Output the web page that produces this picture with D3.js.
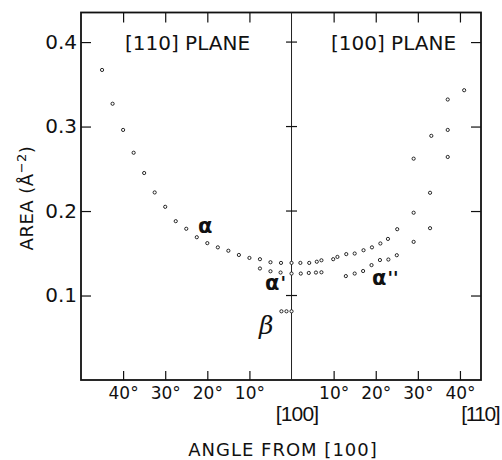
<!DOCTYPE html>
<html>
<head>
<meta charset="UTF-8">
<title>Area vs angle</title>
<script src="https://d3js.org/d3.v7.min.js"></script>
<style>
  body { margin: 0; background: #fff; }
  text { font-family: "DejaVu Sans", sans-serif; fill: #111; }
</style>
</head>
<body>
<svg id="chart" width="502" height="460"></svg>
<script>
// angle from [100] in degrees: negative = [110] plane (left), positive = [100] plane (right)
const alphaAngle = [-45, -42.5, -40, -37.5, -35, -32.5, -30, -27.5, -25, -22.5, -20, -17.5, -15, -12.5, -10, -7.5, -5, -2.5, 0, 2.1, 4.2, 6, 7.1, 9.9, 10.9, 13, 15, 17.1, 19.1, 21.1, 22.9, 25.1];
const alphaArea  = [0.367, 0.327, 0.296, 0.269, 0.245, 0.222, 0.205, 0.188, 0.179, 0.169, 0.162, 0.157, 0.153, 0.148, 0.1445, 0.143, 0.1394, 0.1386, 0.1386, 0.1386, 0.1386, 0.140, 0.1417, 0.143, 0.1457, 0.149, 0.1497, 0.1536, 0.157, 0.1616, 0.167, 0.1785];

const highAngle = [29, 33.2, 37.1, 41];
const highArea  = [0.262, 0.289, 0.332, 0.343];

const midAngle = [29, 32.9, 37.1];
const midArea  = [0.198, 0.2216, 0.296];

const alphaPrimeAngle = [-7.5, -5, -2.6, 0, 2.2, 4.1, 5.8, 7.1];
const alphaPrimeArea  = [0.132, 0.1287, 0.1272, 0.126, 0.126, 0.1267, 0.1272, 0.1275];

const alphaDblAngle = [12.9, 15, 17, 19, 21, 23, 25, 29, 32.9, 37.1];
const alphaDblArea  = [0.123, 0.126, 0.129, 0.136, 0.142, 0.1426, 0.1477, 0.1635, 0.1797, 0.264];

const betaAngle = [-2.4, -1.2, 0];
const betaArea  = [0.0813, 0.0813, 0.0813];

const xTicks = [-40, -30, -20, -10, 10, 20, 30, 40];
const yTicks = [0.1, 0.2, 0.3, 0.4];

const svg = d3.select('#chart');
const pLeft = 81, pRight = 481, pTop = 12.5, pBottom = 380;

const x = d3.scaleLinear().domain([-50, 45]).range([pLeft, pRight]);
const y = d3.scaleLinear().domain([0, 0.435]).range([pBottom, pTop]);

function styleAxis(g) {
    g.select('.domain').remove();
    g.selectAll('.tick line').attr('stroke', '#111').attr('stroke-width', 1.2);
    g.selectAll('.tick text').attr('fill', '#111');
}

// left axis with labels
svg.append('g')
    .attr('transform', `translate(${pLeft},0)`)
    .call(d3.axisLeft(y).tickValues(yTicks).tickSize(-10).tickSizeOuter(0).tickPadding(4)
        .tickFormat(d3.format('.1f')))
    .call(styleAxis)
    .selectAll('text').style('font-size', '20px').style('font-family', '"DejaVu Sans", sans-serif');

// right axis, ticks only
svg.append('g')
    .attr('transform', `translate(${pRight},0)`)
    .call(d3.axisRight(y).tickValues(yTicks).tickSize(-10).tickSizeOuter(0).tickFormat(''))
    .call(styleAxis);

// bottom axis with degree labels
svg.append('g')
    .attr('transform', `translate(0,${pBottom})`)
    .call(d3.axisBottom(x).tickValues(xTicks).tickSize(-9).tickSizeOuter(0).tickPadding(7)
        .tickFormat(d => Math.abs(d) + '°'))
    .call(styleAxis)
    .selectAll('text').style('font-size', '17px').style('font-family', '"DejaVu Sans", sans-serif');

// top axis, ticks only
svg.append('g')
    .attr('transform', `translate(0,${pTop})`)
    .call(d3.axisTop(x).tickValues(xTicks).tickSize(-10).tickSizeOuter(0).tickFormat(''))
    .call(styleAxis);

// frame
svg.append('rect')
    .attr('x', pLeft).attr('y', pTop)
    .attr('width', pRight - pLeft).attr('height', pBottom - pTop)
    .attr('fill', 'none').attr('stroke', '#111').attr('stroke-width', 1.8);

// center line at [100]
svg.append('line')
    .attr('x1', x(0)).attr('x2', x(0)).attr('y1', pTop).attr('y2', pBottom)
    .attr('stroke', '#222').attr('stroke-width', 1);

svg.append('g').selectAll('line')
    .data(yTicks).join('line')
    .attr('x1', x(0) - 5.5).attr('x2', x(0) + 5.5)
    .attr('y1', d => y(d)).attr('y2', d => y(d))
    .attr('stroke', '#111').attr('stroke-width', 1.2);

// data points
const series = [
    [alphaAngle, alphaArea],
    [highAngle, highArea],
    [midAngle, midArea],
    [alphaPrimeAngle, alphaPrimeArea],
    [alphaDblAngle, alphaDblArea],
    [betaAngle, betaArea]
];
const pts = [];
series.forEach(([a, v]) => a.forEach((d, i) => pts.push({ angle: d, area: v[i] })));

svg.append('g').selectAll('circle')
    .data(pts).join('circle')
    .attr('cx', d => x(d.angle))
    .attr('cy', d => y(d.area))
    .attr('r', 1.6)
    .attr('fill', '#fff')
    .attr('stroke', '#111')
    .attr('stroke-width', 0.9);

// plane labels
svg.append('text').attr('x', 187.5).attr('y', 50).attr('text-anchor', 'middle')
    .style('font-size', '20px').text('[110] PLANE');
svg.append('text').attr('x', 393.5).attr('y', 50).attr('text-anchor', 'middle')
    .style('font-size', '20px').text('[100] PLANE');

// branch labels
function greek(xp, yp, mark) {
    const t = svg.append('text').attr('x', xp).attr('y', yp).style('font-size', '21px')
        .style('font-weight', 'bold');
    t.append('tspan').text('α');
    if (mark) t.append('tspan').attr('dx', 1).attr('dy', -1).style('font-size', '18px').text(mark);
}
greek(198, 233, '');
greek(265, 290, "'");
greek(372, 285, "''");
svg.append('text').attr('x', 259).attr('y', 334).style('font-size', '25px')
    .style('font-family', '"DejaVu Serif", serif').style('font-style', 'italic').text('β');

// direction labels under axis
svg.append('text').attr('x', 297).attr('y', 421).attr('text-anchor', 'middle')
    .style('font-family', '"Liberation Sans", sans-serif').style('font-size', '21px')
    .style('letter-spacing', '-0.8px').text('[100]');
svg.append('text').attr('x', 499).attr('y', 421).attr('text-anchor', 'end')
    .style('font-family', '"Liberation Sans", sans-serif').style('font-size', '21px')
    .style('letter-spacing', '-1.5px').text('[110]');

// axis titles
svg.append('text').attr('x', 283).attr('y', 456).attr('text-anchor', 'middle')
    .style('font-size', '18px').style('letter-spacing', '1px').text('ANGLE FROM [100]');

const yl = svg.append('text')
    .attr('transform', 'translate(33,198) rotate(-90)')
    .attr('text-anchor', 'middle')
    .style('font-size', '18px')
    .style('letter-spacing', '0.5px');
yl.append('tspan').text('AREA (Å');
yl.append('tspan').attr('dy', -7).style('font-size', '13px').text('−2');
yl.append('tspan').attr('dy', 7).text(')');
</script>
</body>
</html>
